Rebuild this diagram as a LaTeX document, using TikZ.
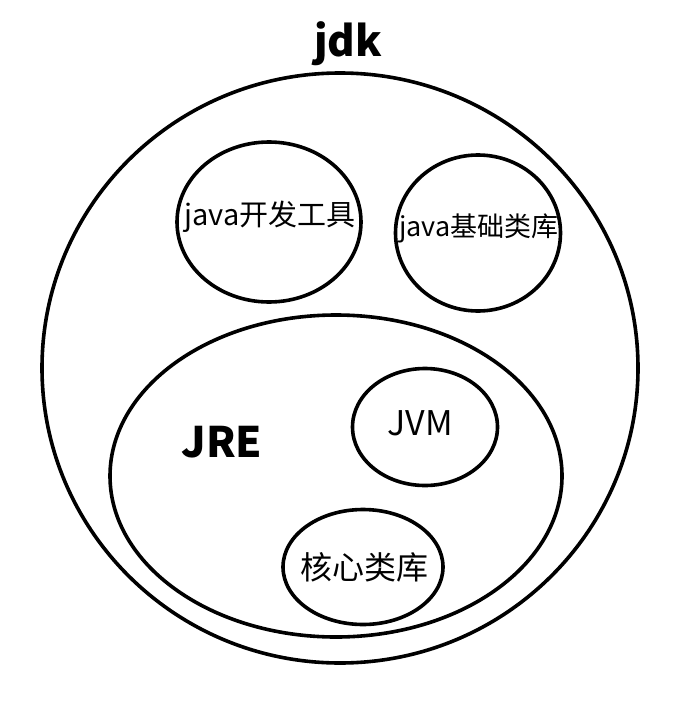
\documentclass[tikz,border=0pt]{standalone}
\usepackage{fontspec}
\setmainfont{Noto Sans CJK SC}
\usetikzlibrary{shapes}
\usetikzlibrary{positioning}

\begin{document}
\begin{tikzpicture}[
  x=1pt,y=-1pt,
  line width=3.6pt,
  set/.style={ellipse,draw,inner sep=0pt},
  bigbold/.style={inner sep=0pt,font=\fontsize{42}{44}\selectfont\bfseries},
  font=\fontsize{29}{31}\selectfont]
  \useasboundingbox (0,0) rectangle (697,701);
  % outer set and its title
  \node[set,minimum width=596pt,minimum height=590pt] (jdk) at (340,368) {};
  \node[bigbold,above=4pt of jdk.north,xshift=8pt] (jdktext) {jdk};
  % tools and libraries
  \node[set,minimum width=184pt,minimum height=160pt] (tools) at (269,222) {};
  \node (toolstext) at (270,217) {java开发工具};
  \node[set,minimum width=165pt,minimum height=156pt] (libs) at (478,233) {};
  \node[font=\fontsize{27}{29}\selectfont] (libstext) at (479,228) {java基础类库};
  % runtime
  \node[set,minimum width=452pt,minimum height=322pt] (jre) at (336,476) {};
  \node[bigbold,anchor=base] (jretext) at (222,457) {JRE};
  \node[set,minimum width=145pt,minimum height=117pt] (jvm) at (425,427) {};
  \node[font=\fontsize{34}{36}\selectfont] (jvmtext) at (420,423) {JVM};
  \node[set,minimum width=160pt,minimum height=115pt] (core) at (363,567) {};
  \node[font=\fontsize{32}{34}\selectfont] (coretext) at (364,567) {核心类库};
\end{tikzpicture}
\end{document}
